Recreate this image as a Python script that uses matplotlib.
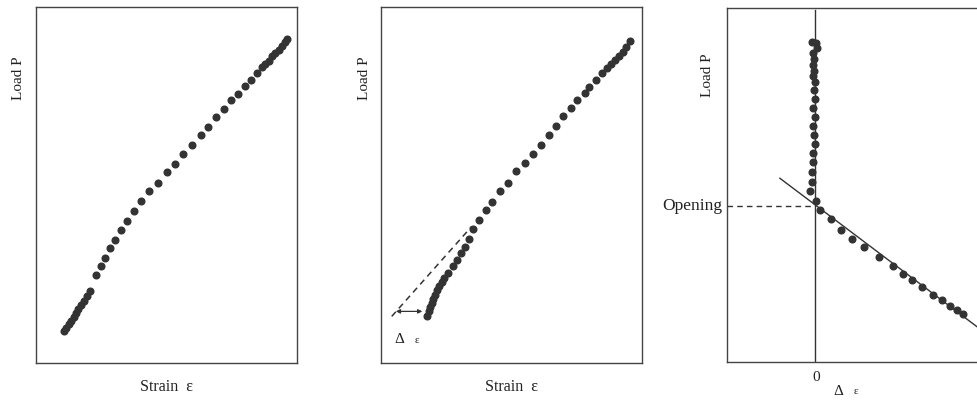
import matplotlib.pyplot as plt

plt.rcParams['font.family'] = ['Liberation Serif', 'DejaVu Serif']

# Panel 1: load vs strain (arbitrary units, 0-100)
strain_1 = [10.8, 11.7, 12.6, 13.5, 14.4, 15.3, 16.3, 17.3, 18.5, 19.5, 20.8,
            22.9, 24.8, 26.5, 28.4, 30.3, 32.7, 35.0, 37.6, 40.4, 43.4, 46.8,
            50.1, 53.2, 56.4, 59.7, 63.1, 66.0, 69.2, 72.2, 74.8, 77.6, 80.1,
            82.4, 84.7, 86.6, 87.9, 89.2, 90.4, 91.7, 93.0, 94.3, 95.5, 96.4]
load_1 = [8.9, 9.8, 10.9, 11.9, 12.9, 14.0, 15.1, 16.3, 17.5, 18.7, 20.1,
          24.8, 27.2, 29.5, 32.3, 34.6, 37.5, 40.0, 42.8, 45.4, 48.2, 50.7,
          53.6, 56.0, 58.8, 61.2, 64.0, 66.4, 69.0, 71.3, 73.8, 75.7, 77.9,
          79.6, 81.6, 83.1, 84.0, 84.9, 86.1, 87.1, 88.0, 89.1, 90.2, 91.0]

# Panel 2: load vs strain with initial offset
strain_2 = [17.5, 18.2, 18.8, 19.4, 20.1, 20.7, 21.6, 22.4, 23.3, 24.2, 25.8,
            27.5, 29.0, 30.7, 32.2, 33.8, 35.4, 37.7, 40.3, 42.5, 45.7, 48.6,
            51.8, 55.0, 58.1, 61.3, 64.2, 67.1, 69.9, 72.8, 75.3, 78.0, 79.9,
            82.5, 84.7, 86.6, 88.1, 89.6, 91.2, 92.7, 94.0, 95.3]
load_2 = [13.3, 14.5, 15.7, 16.9, 18.1, 19.2, 20.4, 21.5, 22.7, 23.8, 25.3,
          27.2, 28.8, 30.9, 32.6, 34.8, 37.6, 40.1, 42.9, 45.1, 48.2, 50.7,
          53.8, 56.2, 58.8, 61.3, 64.1, 66.7, 69.3, 71.6, 74.0, 75.8, 77.5,
          79.6, 81.5, 82.9, 84.1, 85.2, 86.3, 87.5, 88.8, 90.4]
tangent_x = [4.1, 34.8]
tangent_y = [13.1, 38.4]
offset_x = [4.6, 16.9]
offset_y = 14.5

# Panel 3: load vs strain difference
delta_3 = [-0.038, 0.008, 0.027, -0.019, -0.011, -0.019, -0.008, -0.019, 0.0,
           -0.011, 0.0, -0.019, 0.0, -0.027, -0.011, 0.0, -0.027, -0.019,
           -0.038, -0.038, -0.057, 0.008,
           0.057, 0.178, 0.295, 0.424, 0.561, 0.731, 0.890, 1.004, 1.098,
           1.212, 1.345, 1.439, 1.534, 1.610, 1.686]
load_3 = [90.5, 90.2, 88.6, 87.2, 85.5, 83.9, 82.3, 80.8, 79.2, 76.8, 74.2,
          71.7, 69.3, 66.7, 64.1, 61.6, 59.1, 56.6, 53.8, 50.9, 48.4, 45.5,
          42.9, 40.3, 37.3, 34.7, 32.4, 29.6, 27.2, 25.0, 23.2, 21.1, 18.9,
          17.5, 15.8, 14.7, 13.5]
fit_x = [-0.398, 1.93]
fit_y = [51.9, 8.3]
opening_load = 44.2

dot = dict(marker='o', ms=4.8, color='#333333', lw=0)
ink = '#333333'

fig = plt.figure(figsize=(9.77, 4.0), dpi=100)
ax1 = fig.add_axes([0.0368, 0.0925, 0.267, 0.89])
ax2 = fig.add_axes([0.390, 0.0925, 0.267, 0.89])
ax3 = fig.add_axes([0.744, 0.095, 0.264, 0.885])

for ax in (ax1, ax2, ax3):
    ax.set_xticks([])
    ax.set_yticks([])
    for s in ax.spines.values():
        s.set_color('#444444')
        s.set_linewidth(1.0)

for ax in (ax1, ax2):
    ax.set_xlim(0, 100)
    ax.set_ylim(0, 100)
    ax.text(-0.065, 0.80, 'Load P', transform=ax.transAxes, rotation=90,
            ha='center', va='center', fontsize=11, color='#222222')
    ax.text(0.50, -0.068, 'Strain  ε', transform=ax.transAxes,
            ha='center', va='center', fontsize=11.5, color='#222222')

ax1.plot(strain_1, load_1, **dot)

ax2.plot(tangent_x, tangent_y, ls=(0, (4, 3)), color=ink, lw=1.1)
ax2.annotate('', xy=(offset_x[1], offset_y), xytext=(offset_x[0], offset_y),
             arrowprops=dict(arrowstyle='<|-|>', color=ink, lw=0.9,
                             mutation_scale=6))
ax2.plot(strain_2, load_2, **dot)
ax2.text(7.0, 6.5, 'Δ', ha='center', va='center', fontsize=11, color='#222222')
ax2.text(13.8, 6.3, 'ε', ha='center', va='center', fontsize=8, color='#222222')

ax3.set_xlim(-1, 1.93)
ax3.set_ylim(0, 100)
ax3.axvline(0, ymax=0.994, color=ink, lw=1.0)
ax3.plot([-1, 0], [opening_load, opening_load], ls=(0, (4, 3)), color=ink, lw=1.0)
ax3.plot(fit_x, fit_y, color=ink, lw=1.0)
ax3.plot(delta_3, load_3, **dot)
ax3.text(-0.074, 0.81, 'Load P', transform=ax3.transAxes, rotation=90,
         ha='center', va='center', fontsize=11, color='#222222')
ax3.text(-0.016, opening_load, 'Opening', transform=ax3.get_yaxis_transform(),
         ha='right', va='center', fontsize=12.5, color='#222222')
ax3.text(0.02, -0.045, '0', transform=ax3.get_xaxis_transform(),
         ha='center', va='center', fontsize=11, color='#222222')
ax3.text(0.27, -0.082, 'Δ', transform=ax3.get_xaxis_transform(),
         ha='center', va='center', fontsize=11, color='#222222')
ax3.text(0.47, -0.084, 'ε', transform=ax3.get_xaxis_transform(),
         ha='center', va='center', fontsize=8, color='#222222')

fig.savefig('out.png', dpi=100)
